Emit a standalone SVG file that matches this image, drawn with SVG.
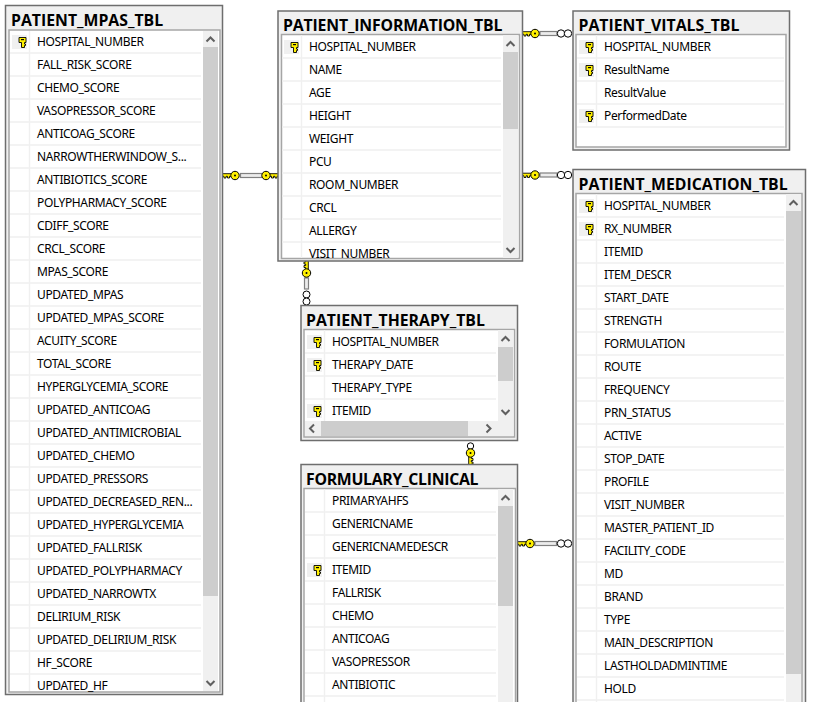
<svg xmlns="http://www.w3.org/2000/svg" xmlns:xlink="http://www.w3.org/1999/xlink" width="814" height="702" viewBox="0 0 814 702">
<style>
.o{fill:#f0f0f0;stroke:#6e6e6e;stroke-width:1.5}
.i{fill:#fff;stroke:#a6a6a6;stroke-width:1.5}
.t{font:bold 15.8px "Open Sans","Noto Sans",sans-serif;fill:#000}
.r{font:12px "Noto Sans","Open Sans",sans-serif;letter-spacing:-.36px;fill:#000}
.s{fill:none;stroke:#f0f0f0;stroke-width:1.4}
.tr{fill:#f0f0f0}
.th{fill:#cdcdcd}
.ch{fill:none;stroke:#606060;stroke-width:2}
.kc{fill:#f0f0f0}
.pipe{fill:#ececec;stroke:#808080;stroke-width:1.2}
.inf{fill:#fff;stroke:#000;stroke-width:1}
</style>
<defs>
<g id="up"><path class="ch" d="M-4 2L0-2L4 2"/></g>
<g id="down"><path class="ch" d="M-4-2L0 2L4-2"/></g>
<g id="left"><path class="ch" d="M2-4L-2 0L2 4"/></g>
<g id="right"><path class="ch" d="M-2-4L2 0L-2 4"/></g>
<g id="k">
<rect class="kc" x="-10" y="-7" width="15" height="14"/>
<path d="M-3-4.500H4V.5H2.500V2H3.500V3.500H2.500V5.500H-.5V.5H-3Z" fill="#fff000" stroke="#000" stroke-width=".9"/>
<rect x="-1" y="-3" width="3" height="1.200" fill="#000"/>
</g>
<g id="ck">
<path d="M-3-1.800H-12.500V.8H-11V2.500H-9V.8H-7.500V2.500H-5.500V.8H-3Z" fill="#fff000" stroke="#000" stroke-width=".9"/>
<circle r="4.200" fill="#fff000" stroke="#000" stroke-width="1"/>
<circle r="1" fill="#000"/>
</g>
</defs>

<g id="connectors">
<g id="c-mpas-info">
<rect class="pipe" x="240.500" y="173.500" width="22" height="4"/>
<use xlink:href="#ck" href="#ck" transform="translate(235 175.500)"/>
<use xlink:href="#ck" href="#ck" transform="translate(266 175.500) scale(-1 1)"/>
</g>
<g id="c-info-vitals">
<rect class="pipe" x="540" y="31.500" width="17" height="4"/>
<circle class="inf" cx="561" cy="33.500" r="3.700"/><circle class="inf" cx="568" cy="33.500" r="3.700"/>
<use xlink:href="#ck" href="#ck" transform="translate(535 33.500)"/>
</g>
<g id="c-info-med">
<rect class="pipe" x="540" y="173" width="17" height="4"/>
<circle class="inf" cx="561" cy="175" r="3.700"/><circle class="inf" cx="568" cy="175" r="3.700"/>
<use xlink:href="#ck" href="#ck" transform="translate(535 175)"/>
</g>
<g id="c-info-therapy">
<rect class="pipe" x="304.500" y="278" width="4" height="11"/>
<circle class="inf" cx="306.500" cy="294.500" r="3.500"/><circle class="inf" cx="306.500" cy="301.500" r="3.500"/>
<use xlink:href="#ck" href="#ck" transform="translate(306.500 273) rotate(90)"/>
</g>
<g id="c-therapy-formulary">
<circle class="inf" cx="470.500" cy="446" r="3.200"/>
<use xlink:href="#ck" href="#ck" transform="translate(470.500 453) rotate(-90)"/>
</g>
<g id="c-formulary-med">
<rect class="pipe" x="535" y="541.500" width="21.500" height="4"/>
<circle class="inf" cx="561" cy="543.500" r="3.700"/><circle class="inf" cx="568" cy="543.500" r="3.700"/>
<use xlink:href="#ck" href="#ck" transform="translate(530 543.500)"/>
</g>
</g>

<g id="PATIENT_MPAS_TBL">
<rect class="o" x="5.500" y="5.500" width="217" height="689"/>
<text class="t" x="11" y="26">PATIENT_MPAS_TBL</text>
<rect class="i" x="9" y="30" width="211" height="662"/>
<path class="s" d="M10 53h191M10 76h191M10 99h191M10 122h191M10 145h191M10 168h191M10 191h191M10 214h191M10 237h191M10 260h191M10 283h191M10 306h191M10 329h191M10 352h191M10 375h191M10 398h191M10 421h191M10 444h191M10 467h191M10 490h191M10 513h191M10 536h191M10 559h191M10 582h191M10 605h191M10 628h191M10 651h191M10 674h191M29.500 31V691"/>
<use xlink:href="#k" href="#k" transform="translate(22 42)"/>
<g>
<text class="r" x="37" y="46">HOSPITAL_NUMBER</text>
<text class="r" x="37" y="69">FALL_RISK_SCORE</text>
<text class="r" x="37" y="92">CHEMO_SCORE</text>
<text class="r" x="37" y="115">VASOPRESSOR_SCORE</text>
<text class="r" x="37" y="138">ANTICOAG_SCORE</text>
<text class="r" x="37" y="161">NARROWTHERWINDOW_S...</text>
<text class="r" x="37" y="184">ANTIBIOTICS_SCORE</text>
<text class="r" x="37" y="207">POLYPHARMACY_SCORE</text>
<text class="r" x="37" y="230">CDIFF_SCORE</text>
<text class="r" x="37" y="253">CRCL_SCORE</text>
<text class="r" x="37" y="276">MPAS_SCORE</text>
<text class="r" x="37" y="299">UPDATED_MPAS</text>
<text class="r" x="37" y="322">UPDATED_MPAS_SCORE</text>
<text class="r" x="37" y="345">ACUITY_SCORE</text>
<text class="r" x="37" y="368">TOTAL_SCORE</text>
<text class="r" x="37" y="391">HYPERGLYCEMIA_SCORE</text>
<text class="r" x="37" y="414">UPDATED_ANTICOAG</text>
<text class="r" x="37" y="437">UPDATED_ANTIMICROBIAL</text>
<text class="r" x="37" y="460">UPDATED_CHEMO</text>
<text class="r" x="37" y="483">UPDATED_PRESSORS</text>
<text class="r" x="37" y="506">UPDATED_DECREASED_REN...</text>
<text class="r" x="37" y="529">UPDATED_HYPERGLYCEMIA</text>
<text class="r" x="37" y="552">UPDATED_FALLRISK</text>
<text class="r" x="37" y="575">UPDATED_POLYPHARMACY</text>
<text class="r" x="37" y="598">UPDATED_NARROWTX</text>
<text class="r" x="37" y="621">DELIRIUM_RISK</text>
<text class="r" x="37" y="644">UPDATED_DELIRIUM_RISK</text>
<text class="r" x="37" y="667">HF_SCORE</text>
<text class="r" x="37" y="690">UPDATED_HF</text>
</g>
<rect class="tr" x="203" y="31" width="15" height="660"/>
<rect class="th" x="203" y="47" width="15" height="549"/>
<use xlink:href="#up" href="#up" transform="translate(210.500 39.500)"/>
<use xlink:href="#down" href="#down" transform="translate(210.500 683)"/>
</g>

<g id="PATIENT_INFORMATION_TBL">
<rect class="o" x="278" y="11" width="244.500" height="250"/>
<text class="t" x="283" y="31" textLength="219.500">PATIENT_INFORMATION_TBL</text>
<clipPath id="cinfo"><rect x="282" y="35" width="237" height="223"/></clipPath>
<rect class="i" x="281.500" y="34.500" width="238" height="224"/>
<path class="s" d="M282 58h219M282 81h219M282 104h219M282 127h219M282 150h219M282 173h219M282 196h219M282 219h219M282 242h219M301.500 35V258"/>
<use xlink:href="#k" href="#k" transform="translate(294 47)"/>
<g clip-path="url(#cinfo)">
<text class="r" x="309" y="51">HOSPITAL_NUMBER</text>
<text class="r" x="309" y="74">NAME</text>
<text class="r" x="309" y="97">AGE</text>
<text class="r" x="309" y="120">HEIGHT</text>
<text class="r" x="309" y="143">WEIGHT</text>
<text class="r" x="309" y="166">PCU</text>
<text class="r" x="309" y="189">ROOM_NUMBER</text>
<text class="r" x="309" y="212">CRCL</text>
<text class="r" x="309" y="235">ALLERGY</text>
<text class="r" x="309" y="258">VISIT_NUMBER</text>
</g>
<rect class="tr" x="503" y="35" width="15" height="223"/>
<rect class="th" x="503" y="52" width="15" height="77"/>
<use xlink:href="#up" href="#up" transform="translate(510.500 44)"/>
<use xlink:href="#down" href="#down" transform="translate(510.500 250)"/>
</g>

<g id="PATIENT_VITALS_TBL">
<rect class="o" x="573" y="11" width="216.500" height="139"/>
<text class="t" x="578.500" y="31">PATIENT_VITALS_TBL</text>
<rect class="i" x="576" y="34.500" width="210" height="112.500"/>
<path class="s" d="M577 58h207M577 81h207M577 104h207M577 127h207M596.500 35V127"/>
<use xlink:href="#k" href="#k" transform="translate(589 47)"/>
<use xlink:href="#k" href="#k" transform="translate(589 70)"/>
<use xlink:href="#k" href="#k" transform="translate(589 116)"/>
<text class="r" x="604" y="51">HOSPITAL_NUMBER</text>
<text class="r" x="604" y="74">ResultName</text>
<text class="r" x="604" y="97">ResultValue</text>
<text class="r" x="604" y="120">PerformedDate</text>
</g>

<g id="PATIENT_MEDICATION_TBL">
<rect class="o" x="573" y="169.500" width="232.500" height="560"/>
<text class="t" x="578.500" y="189.500">PATIENT_MEDICATION_TBL</text>
<rect class="i" x="576" y="193.500" width="226" height="530"/>
<path class="s" d="M577 217h207M577 240h207M577 263h207M577 286h207M577 309h207M577 332h207M577 355h207M577 378h207M577 401h207M577 424h207M577 447h207M577 470h207M577 493h207M577 516h207M577 539h207M577 562h207M577 585h207M577 608h207M577 631h207M577 654h207M577 677h207M577 700h207M596.500 194V702"/>
<use xlink:href="#k" href="#k" transform="translate(589 206)"/>
<use xlink:href="#k" href="#k" transform="translate(589 229)"/>
<g>
<text class="r" x="604" y="210">HOSPITAL_NUMBER</text>
<text class="r" x="604" y="233">RX_NUMBER</text>
<text class="r" x="604" y="256">ITEMID</text>
<text class="r" x="604" y="279">ITEM_DESCR</text>
<text class="r" x="604" y="302">START_DATE</text>
<text class="r" x="604" y="325">STRENGTH</text>
<text class="r" x="604" y="348">FORMULATION</text>
<text class="r" x="604" y="371">ROUTE</text>
<text class="r" x="604" y="394">FREQUENCY</text>
<text class="r" x="604" y="417">PRN_STATUS</text>
<text class="r" x="604" y="440">ACTIVE</text>
<text class="r" x="604" y="463">STOP_DATE</text>
<text class="r" x="604" y="486">PROFILE</text>
<text class="r" x="604" y="509">VISIT_NUMBER</text>
<text class="r" x="604" y="532">MASTER_PATIENT_ID</text>
<text class="r" x="604" y="555">FACILITY_CODE</text>
<text class="r" x="604" y="578">MD</text>
<text class="r" x="604" y="601">BRAND</text>
<text class="r" x="604" y="624">TYPE</text>
<text class="r" x="604" y="647">MAIN_DESCRIPTION</text>
<text class="r" x="604" y="670">LASTHOLDADMINTIME</text>
<text class="r" x="604" y="693">HOLD</text>
</g>
<rect class="tr" x="786" y="194" width="15" height="520"/>
<rect class="th" x="786" y="211" width="15" height="463"/>
<use xlink:href="#up" href="#up" transform="translate(793.500 203)"/>
</g>

<g id="PATIENT_THERAPY_TBL">
<rect class="o" x="301" y="305.500" width="216.500" height="135"/>
<text class="t" x="306" y="326">PATIENT_THERAPY_TBL</text>
<rect class="i" x="304" y="329.500" width="210.500" height="107.500"/>
<path class="s" d="M305 353h191M305 376h191M305 399h191M324.500 330V421"/>
<use xlink:href="#k" href="#k" transform="translate(317 342)"/>
<use xlink:href="#k" href="#k" transform="translate(317 365)"/>
<use xlink:href="#k" href="#k" transform="translate(317 411)"/>
<text class="r" x="332" y="346">HOSPITAL_NUMBER</text>
<text class="r" x="332" y="369">THERAPY_DATE</text>
<text class="r" x="332" y="392">THERAPY_TYPE</text>
<text class="r" x="332" y="415">ITEMID</text>
<rect class="tr" x="498" y="330" width="15.500" height="91"/>
<rect class="th" x="498" y="347" width="15" height="34"/>
<use xlink:href="#up" href="#up" transform="translate(505.500 339)"/>
<use xlink:href="#down" href="#down" transform="translate(505.500 412)"/>
<rect class="tr" x="305" y="421" width="208.500" height="15"/>
<rect class="th" x="321" y="421" width="147" height="15"/>
<use xlink:href="#left" href="#left" transform="translate(312 428.500)"/>
<use xlink:href="#right" href="#right" transform="translate(488.500 428.500)"/>
</g>

<g id="FORMULARY_CLINICAL">
<rect class="o" x="301" y="464.500" width="216.500" height="260"/>
<text class="t" x="306" y="485" textLength="172.500">FORMULARY_CLINICAL</text>
<rect class="i" x="304" y="488.500" width="211.500" height="230"/>
<path class="s" d="M305 512h191M305 535h191M305 558h191M305 581h191M305 604h191M305 627h191M305 650h191M305 673h191M305 696h191M324.500 489V702"/>
<use xlink:href="#k" href="#k" transform="translate(317 570)"/>
<g>
<text class="r" x="332" y="505">PRIMARYAHFS</text>
<text class="r" x="332" y="528">GENERICNAME</text>
<text class="r" x="332" y="551">GENERICNAMEDESCR</text>
<text class="r" x="332" y="574">ITEMID</text>
<text class="r" x="332" y="597">FALLRISK</text>
<text class="r" x="332" y="620">CHEMO</text>
<text class="r" x="332" y="643">ANTICOAG</text>
<text class="r" x="332" y="666">VASOPRESSOR</text>
<text class="r" x="332" y="689">ANTIBIOTIC</text>
</g>
<rect class="tr" x="498" y="489" width="15" height="220"/>
<rect class="th" x="498" y="506" width="15" height="100"/>
<use xlink:href="#up" href="#up" transform="translate(505.500 498)"/>
</g>
</svg>
